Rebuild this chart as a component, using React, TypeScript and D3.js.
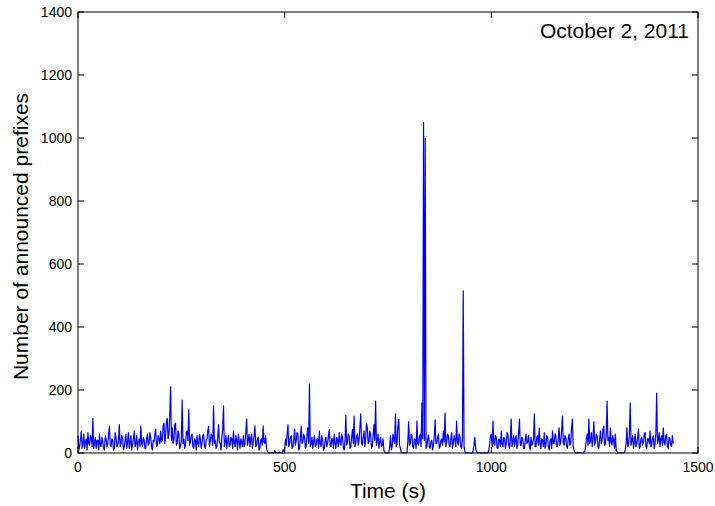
import React from "react";
import * as d3 from "d3";

const step = 2;
const counts: number[] = [
  // t 0-98
  55, 10, 20, 45, 70, 15, 30, 60, 15, 35, 45, 10, 65, 30, 25, 55, 50, 20, 110, 15, 30, 50, 15, 40, 40, 10, 60, 25, 20, 50, 35, 15, 10, 55, 45, 20, 30, 60, 85, 25, 20, 45, 40, 10, 15, 65, 50, 20, 25, 40,
  // t 100-198
  90, 20, 30, 55, 45, 10, 20, 40, 60, 15, 35, 65, 15, 30, 55, 10, 25, 45, 70, 20, 30, 55, 10, 35, 45, 20, 85, 30, 20, 50, 40, 15, 15, 45, 60, 25, 30, 65, 50, 20, 10, 40, 35, 60, 75, 20, 25, 55, 45, 30,
  // t 200-298
  70, 35, 40, 85, 95, 30, 55, 100, 110, 45, 60, 120, 210, 40, 80, 30, 40, 90, 95, 25, 30, 70, 60, 15, 20, 40, 168, 30, 45, 15, 25, 65, 70, 40, 137, 25, 35, 55, 60, 20, 15, 45, 40, 10, 55, 30, 20, 60, 45, 15,
  // t 300-398
  30, 55, 60, 20, 15, 40, 45, 70, 85, 20, 35, 60, 55, 25, 150, 30, 40, 15, 20, 50, 90, 35, 30, 10, 50, 75, 150, 20, 35, 55, 15, 40, 55, 20, 25, 50, 45, 15, 70, 30, 20, 55, 40, 10, 60, 35, 15, 45, 35, 20,
  // t 400-498
  55, 20, 30, 70, 108, 25, 40, 60, 20, 45, 60, 15, 35, 55, 86, 20, 25, 45, 50, 10, 15, 40, 45, 25, 86, 35, 30, 55, 15, 5, 2, 0, 0, 0, 1, 0, 0, 2, 8, 1, 2, 0, 0, 1, 3, 0, 0, 0, 10, 5,
  // t 500-598
  12, 45, 25, 60, 90, 20, 30, 50, 55, 15, 20, 45, 75, 25, 40, 65, 60, 10, 15, 50, 85, 30, 35, 60, 50, 15, 20, 55, 80, 30, 219, 20, 30, 50, 15, 35, 55, 20, 25, 45, 45, 15, 70, 30, 20, 55, 40, 10, 15, 40,
  // t 600-698
  50, 20, 30, 55, 75, 25, 20, 45, 45, 15, 60, 30, 15, 50, 40, 20, 65, 35, 25, 60, 50, 15, 10, 40, 120, 25, 35, 60, 55, 15, 20, 50, 75, 30, 117, 20, 30, 55, 60, 25, 40, 80, 124, 30, 25, 50, 70, 20, 45, 95,
  // t 700-798
  80, 30, 35, 70, 60, 15, 20, 55, 90, 40, 165, 25, 40, 60, 15, 35, 50, 20, 25, 45, 10, 2, 0, 0, 0, 0, 1, 20, 55, 10, 20, 60, 45, 30, 124, 20, 30, 85, 107, 25, 15, 2, 0, 0, 1, 0, 0, 0, 2, 35,
  // t 800-898
  100, 25, 30, 60, 55, 20, 15, 45, 40, 15, 102, 30, 25, 50, 60, 20, 159, 45, 1050, 40, 1000, 15, 20, 45, 57, 20, 15, 35, 40, 10, 25, 55, 105, 30, 30, 50, 60, 15, 20, 40, 45, 25, 70, 35, 127, 20, 35, 60, 55, 25,
  // t 900-998
  20, 45, 65, 15, 30, 55, 45, 20, 101, 35, 25, 60, 50, 20, 15, 40, 515, 20, 5, 0, 0, 0, 1, 0, 0, 0, 0, 0, 10, 25, 50, 15, 5, 0, 0, 0, 1, 0, 0, 0, 0, 0, 2, 0, 0, 0, 1, 10, 30, 55,
  // t 1000-1098
  60, 20, 101, 30, 25, 55, 50, 15, 15, 45, 40, 20, 70, 30, 20, 50, 45, 15, 30, 65, 60, 25, 15, 40, 108, 20, 35, 55, 20, 45, 55, 15, 30, 60, 108, 25, 25, 50, 45, 15, 15, 40, 60, 30, 35, 55, 20, 10, 50, 25,
  // t 1100-1198
  30, 45, 124, 20, 20, 50, 55, 25, 79, 30, 15, 45, 40, 20, 65, 15, 25, 55, 50, 20, 10, 40, 45, 15, 70, 30, 30, 60, 55, 20, 20, 45, 80, 25, 35, 70, 117, 30, 25, 55, 50, 20, 15, 45, 60, 25, 30, 80, 108, 20,
  // t 1200-1298
  10, 2, 0, 0, 2, 0, 0, 1, 1, 0, 0, 0, 3, 5, 20, 45, 60, 25, 108, 30, 40, 65, 20, 50, 100, 25, 35, 60, 55, 20, 15, 45, 70, 30, 40, 75, 85, 25, 30, 60, 165, 40, 50, 20, 80, 35, 25, 55, 40, 15,
  // t 1300-1398
  60, 10, 5, 0, 0, 0, 1, 0, 0, 0, 0, 2, 10, 30, 80, 20, 25, 60, 159, 25, 40, 55, 15, 35, 60, 20, 30, 50, 75, 15, 20, 45, 50, 25, 35, 60, 65, 20, 15, 45, 45, 30, 70, 20, 25, 50, 55, 15, 30, 60,
  // t 1400-1440
  190, 30, 40, 65, 20, 45, 55, 25, 80, 35, 25, 55, 60, 20, 15, 50, 45, 25, 20, 55, 30,
];

const xTicks = [0, 500, 1000, 1500];
const yTicks = [0, 200, 400, 600, 800, 1000, 1200, 1400];
const dateLabel = "October 2, 2011";
const xLabel = "Time (s)";
const yLabel = "Number of announced prefixes";

export default function App() {
  const W = 715, H = 506;
  const left = 78, right = 698, top = 12, bottom = 453;
  const x = d3.scaleLinear().domain([0, 1500]).range([left, right]);
  const y = d3.scaleLinear().domain([0, 1400]).range([bottom, top]);
  const line = d3
    .line<number>()
    .x((_, i) => x(i * step))
    .y((d) => y(d));
  const font = "'Liberation Sans', Arial, sans-serif";
  const tl = 6;
  const big = 21;
  return (
    <svg
      width={W}
      height={H}
      style={{ position: "absolute", left: 0, top: 0, background: "#fff" }}
      fontFamily={font}
    >
      <rect x={0} y={0} width={W} height={H} fill="#fff" />
      <path d={line(counts) || ""} fill="none" stroke="#0000ff" strokeWidth={1.2} strokeLinejoin="round" />
      <rect x={left} y={top} width={right - left} height={bottom - top} fill="none" stroke="#000" strokeWidth={1} />
      {xTicks.map((t) => (
        <g key={"x" + t}>
          <line x1={x(t)} x2={x(t)} y1={bottom} y2={bottom - tl} stroke="#000" />
          <line x1={x(t)} x2={x(t)} y1={top} y2={top + tl} stroke="#000" />
          <text x={x(t)} y={bottom + 19} fontSize={14} textAnchor="middle" fill="#000">
            {t}
          </text>
        </g>
      ))}
      {yTicks.map((t) => (
        <g key={"y" + t}>
          <line x1={left} x2={left + tl} y1={y(t)} y2={y(t)} stroke="#000" />
          <line x1={right} x2={right - tl} y1={y(t)} y2={y(t)} stroke="#000" />
          <text x={left - 6} y={y(t)} dy="0.36em" fontSize={14} textAnchor="end" fill="#000">
            {t}
          </text>
        </g>
      ))}
      <text x={(left + right) / 2} y={498} fontSize={big} textAnchor="middle" fill="#000">
        {xLabel}
      </text>
      <text
        transform={`translate(28, ${(top + bottom) / 2 + 4}) rotate(-90)`}
        fontSize={big}
        textAnchor="middle"
        fill="#000"
      >
        {yLabel}
      </text>
      <text x={689} y={38} fontSize={big} textAnchor="end" fill="#000">
        {dateLabel}
      </text>
    </svg>
  );
}
